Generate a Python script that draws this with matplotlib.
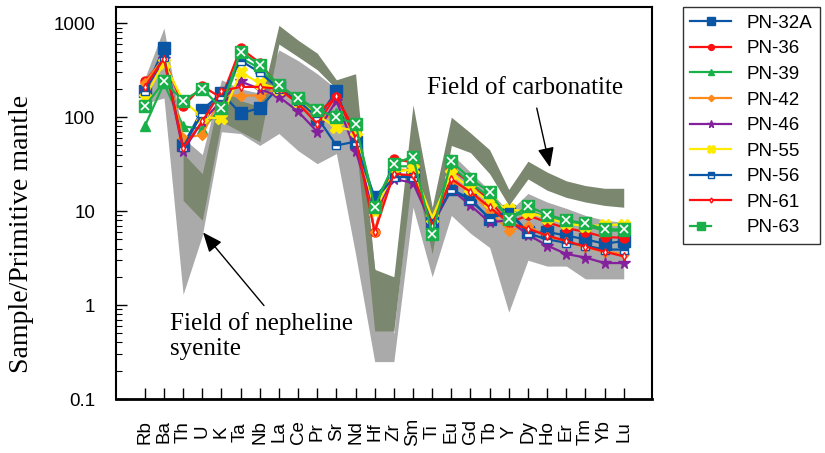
import numpy as np
import matplotlib
matplotlib.use("Agg")
import matplotlib.pyplot as plt
from matplotlib.lines import Line2D
from matplotlib.legend_handler import HandlerTuple
from matplotlib.ticker import LogLocator, NullFormatter

nan = np.nan
elements = ['Rb', 'Ba', 'Th', 'U', 'K', 'Ta', 'Nb', 'La', 'Ce', 'Pr', 'Sr', 'Nd', 'Hf',
            'Zr', 'Sm', 'Ti', 'Eu', 'Gd', 'Tb', 'Y', 'Dy', 'Ho', 'Er', 'Tm', 'Yb', 'Lu']

pn32a = [190, 540, 50, 120, 180, 110, 125, 210, 150, 95, 190, 55, 14, 24, 24, 7.5,
         17, 13.5, 8.3, 10, 6.0, 6.0, 5.5, 5.0, 4.5, 4.8]
pn36 = [240, 420, 130, 215, 160, 540, 380, 210, 150, 110, 165, 70, 6.0, 36, 33, 7.0,
        28, 20, 13, 7.5, 9.0, 7.6, 6.6, 6.0, 5.3, 5.2]
pn39 = [80, 230, 80, 75, 125, 430, 330, 200, 150, 110, 110, 80, 12, 30, 30, 8,
        30, 20, 14, 8.5, 10, 8.6, 7.6, 7.0, 6.2, 6.2]
pn42 = [230, 430, 60, 65, 170, 170, 170, 200, 140, 100, 100, 70, 6.0, 28, 27, 7.5,
        21, 16, 10, 6.2, 7.0, 5.3, 4.7, 4.1, 3.7, 3.5]
pn46 = [190, 420, 44, 90, 150, 240, 200, 165, 115, 70, 150, 44, 10, 22, 20, 7.0,
        17, 11.5, 7.6, 8.0, 5.6, 4.3, 3.5, 3.2, 2.8, 2.8]
pn55 = [160, 380, 150, 100, 97, 300, 230, 200, 150, 105, 78, 72, 10, 26, 28, 8.5,
        25, 17.5, 12.5, 10.5, 9.8, 8.4, 7.4, 6.9, 7.1, 7.2]
pn56 = [190, 440, 48, 110, 170, 400, 300, 200, 150, 100, 50, 55, 13, 23, 23, 7.5,
        17, 13, 8.4, 9.8, 5.8, 5.0, 4.6, 4.3, 3.9, 3.9]
pn61 = [210, 420, 47, 90, 190, 210, 210, 200, 140, 85, 170, 60, 6.0, 25, 24, 7.0,
        22, 16, 11, 7.5, 6.5, 5.5, 4.8, 4.2, 3.7, 3.3]
pn63 = [130, 240, 150, 200, 125, 500, 360, 220, 160, 120, 100, 85, 11, 32, 38, 5.7,
        34, 22, 16, 8.2, 11.3, 9.2, 8.0, 7.4, 6.4, 6.4]

# Field of nepheline syenite (grey)
neph_hi = [260, 890, 60, 40, 250, 200, 180, 520, 400, 290, 200, 140, 2.5, 0.5, 40, 9,
           41, 26, 16.6, 9.8, 15.4, 12.5, 10.7, 9.0, 8.0, 7.6]
neph_lo = [140, 160, 1.3, 5.5, 70, 67, 50, 67, 44, 32, 41, 3.5, 0.25, 0.25, 11, 2.0,
           9, 5.8, 4.1, 0.84, 3.0, 2.6, 2.6, 1.9, 1.9, 1.9]
# Field of carbonatite (olive)
carb_hi = [nan, nan, 41, 25, 210, 150, 130, 950, 660, 480, 250, 290, 2.4, 2.0, 135, 11,
           100, 68, 45, 17, 34, 26, 21, 18.7, 17.5, 17.5]
carb_lo = [nan, nan, 13, 8, 90, 70, 55, 600, 440, 320, 200, 60, 0.53, 0.53, 30, 3.5,
           50, 42, 25, 11.5, 22, 16.7, 14, 12.5, 11.5, 11]

SANS = 'Liberation Sans'
SERIF = 'Liberation Serif'

W, H = 825, 453
fig = plt.figure(figsize=(W / 100, H / 100), dpi=100)
ax = fig.add_axes([115.5 / W, 1 - 399 / H, (651.7 - 115.5) / W, (399 - 6.7) / H])

x = np.arange(len(elements))
ax.fill_between(x, neph_lo, neph_hi, color='#aaaaaa', lw=0, zorder=1)
ax.fill_between(x, carb_lo, carb_hi, color='#7b876f', lw=0, zorder=2)

blue = '#0b56a4'
red = '#ff1010'
green = '#19b04a'
series = [
    ('PN-32A', pn32a, dict(color=blue, marker='s', ms=8, mec=blue)),
    ('PN-36', pn36, dict(color=red, marker='o', ms=6.5, mec=red)),
    ('PN-39', pn39, dict(color=green, marker='^', ms=7.5, mec=green)),
    ('PN-42', pn42, dict(color='#ff8a1c', marker='D', ms=5, mec='#ff8a1c')),
    ('PN-46', pn46, dict(color='#85209c', marker='*', ms=8.5, mec='#85209c')),
    ('PN-55', pn55, dict(color='#ffea00', marker='X', ms=8, mec='#ffea00')),
    ('PN-56', pn56, dict(color=blue, marker='s', ms=6, mec=blue, fillstyle='top',
                         markerfacecoloralt='white')),
    ('PN-61', pn61, dict(color=red, marker='d', ms=4, mec=red, mfc='white')),
]
handles = []
labels = []
z = 5
for name, vals, kw in series:
    ax.plot(x, vals, lw=1.6, zorder=z, **kw)
    handles.append(Line2D([], [], lw=1.6, **{**kw, 'ms': kw['ms'] * 0.65}))
    labels.append(name)
    z += 1

ax.plot(x, pn63, color=green, lw=1.6, marker='s', ms=8, mec=green, zorder=z)
ax.plot(x, pn63, ls='none', marker='x', ms=6, mew=1.2, color='white', zorder=z + 1)
h63a = Line2D([], [], color=green, lw=1.6, marker='s', ms=6, mec=green)
h63b = Line2D([], [], ls='none', marker='x', ms=4.5, mew=1.0, color='white')
handles.append((h63a, h63b))
labels.append('PN-63')

ax.set_yscale('log')
ax.set_ylim(0.1, 1500)
ax.set_xlim(-1.53, 26.46)

ax.set_yticks([0.1, 1, 10, 100, 1000])
ax.set_yticklabels(['0.1', '1', '10', '100', '1000'], fontfamily=SANS, fontsize=13.5)
ax.yaxis.set_minor_locator(LogLocator(base=10, subs=np.arange(2, 10)))
ax.yaxis.set_minor_formatter(NullFormatter())
ax.tick_params(axis='y', which='major', direction='in', length=8, width=1, pad=14.5)
ax.tick_params(axis='y', which='minor', direction='in', length=4.5, width=0.8)

ax.set_xticks(x)
ax.set_xticklabels(elements, rotation=90, fontfamily=SANS, fontsize=13.5, va='center')
ax.tick_params(axis='x', which='major', direction='in', length=8, width=1, pad=23.5)
ax.tick_params(axis='x', which='minor', bottom=False)

for s in ax.spines.values():
    s.set_linewidth(1.5)
    s.set_zorder(20)
ax.spines['bottom'].set_linewidth(2.0)

ax.set_ylabel('Sample/Primitive mantle', fontfamily=SERIF, fontsize=20,
              va='center', ha='center')
ax.yaxis.set_label_coords((21.7 - 115.5) / (651.7 - 115.5), (399 - 234) / (399 - 6.7))

# annotations
ax.text(19.84, 204, 'Field of carbonatite', fontfamily=SERIF, fontsize=18,
        ha='center', va='center', zorder=30)
ax.annotate('', xy=(21.15, 29.3), xytext=(20.46, 125),
            arrowprops=dict(arrowstyle='-|>,head_length=0.6,head_width=0.25',
                            color='black', lw=1, mutation_scale=20,
                            shrinkA=0, shrinkB=0), zorder=30)
ax.text(1.31, 0.47, 'Field of nepheline\nsyenite', fontfamily=SERIF, fontsize=18,
        ha='left', va='center', linespacing=1.15, zorder=30)
ax.annotate('', xy=(3.04, 5.93), xytext=(6.22, 0.988),
            arrowprops=dict(arrowstyle='-|>,head_length=0.6,head_width=0.25',
                            color='black', lw=1, mutation_scale=20,
                            shrinkA=0, shrinkB=0), zorder=30)

leg = fig.legend(handles, labels, loc='upper left',
                 bbox_to_anchor=(682.7 / W, 1 - 7.3 / H), bbox_transform=fig.transFigure,
                 borderaxespad=0, frameon=True, fancybox=False, shadow=False,
                 prop={'family': SANS, 'size': 13.5}, handlelength=2.2,
                 handletextpad=0.8, labelspacing=0.45, borderpad=0.4,
                 handler_map={tuple: HandlerTuple(ndivide=None, pad=0)})
leg.get_frame().set_edgecolor('black')
leg.get_frame().set_linewidth(1.0)

fig.savefig('out.png', dpi=100)
